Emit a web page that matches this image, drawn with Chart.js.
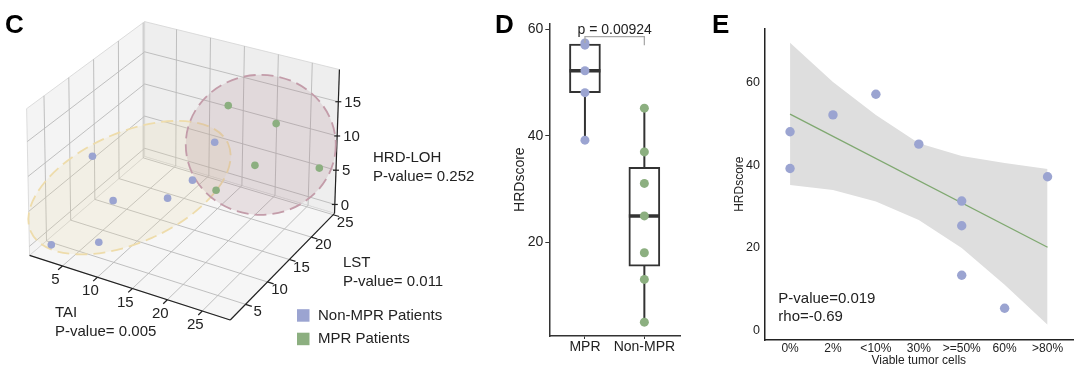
<!DOCTYPE html>
<html>
<head>
<meta charset="utf-8">
<script src="https://cdn.jsdelivr.net/npm/chart.js@4.4.0/dist/chart.umd.min.js"></script>
<style>
  body { margin:0; background:#fff; width:1080px; height:370px; position:relative; overflow:hidden; }
  .panel { position:absolute; top:0; height:370px; }
  .tag { position:absolute; top:11px; font:bold 26px "Liberation Sans", Arial, sans-serif; line-height:26px; color:#000; }
</style>
</head>
<body>
<div class="panel" style="left:0;width:490px"><canvas id="chartC" width="490" height="370"></canvas></div>
<div class="panel" style="left:490px;width:210px"><canvas id="chartD" width="210" height="370"></canvas></div>
<div class="panel" style="left:700px;width:380px"><canvas id="chartE" width="380" height="370"></canvas></div>
<div class="tag" style="left:5px">C</div>
<div class="tag" style="left:495px">D</div>
<div class="tag" style="left:712px">E</div>

<script>
// ---------------- data ----------------
// panel C : TAI / LST / HRD-LOH per patient
var taiNon = [2.4, 7.1, 6.1, 3.5, 11.7, 13.9, 15.0];
var lstNon = [3.0, 6.1, 10.6, 10.1, 14.0, 16.1, 19.2];
var lohNon = [0, 0, 3, 9, 3, 5, 9];
var taiMpr = [16.1, 22.1, 19.9, 27.6, 16.1];
var lstMpr = [20.4, 22.0, 20.8, 23.6, 18.0];
var lohMpr = [14, 12, 6, 6, 3];
// group centres (TAI, LST, LOH) of the two hulls
var hullTai = [7.1, 20.5];
var hullLst = [12.6, 21.1];
var hullLoh = [4, 9];
var taiTicks = [5, 10, 15, 20, 25];
var lstTicks = [5, 10, 15, 20, 25];
var lohTicks = [0, 5, 10, 15];

// panel D : HRD score by response
var groups = ['MPR', 'Non-MPR'];
var mprScores = [57.4, 57.0, 52.2, 48.1, 39.2];
var nonMprScores = [45.2, 37.0, 31.1, 25.0, 18.1, 13.1, 5.1];
var boxLow = [48.1, 15.6];
var boxMid = [52.2, 25.0];
var boxHigh = [57.2, 34.1];
var whiskLow = [39.2, 5.1];
var whiskHigh = [57.2, 45.2];
var bracketY = [57.4, 58.6, 58.6, 57.0];
var scoreTicks = [20, 40, 60];

// panel E : HRD score vs viable tumor cells
var cellCats = ['0%', '2%', '<10%', '30%', '>=50%', '60%', '>80%'];
var caseCells = ['0%', '0%', '2%', '<10%', '30%', '>=50%', '>=50%', '>=50%', '60%', '>80%'];
var caseScores = [48.1, 39.2, 52.2, 57.2, 45.1, 31.3, 25.3, 13.3, 5.3, 37.2];
var bandUpper = [69.7, 60.2, 52.2, 45.3, 42.2, 40.5, 39.1];
var bandLower = [35.2, 34.0, 31.2, 26.7, 19.9, 11.0, 1.3];
var fitEnds = [52.4, 20.1];
var eTicks = [0, 20, 40, 60];

var FONT = '"Liberation Sans", Arial, sans-serif';
var BLUE = '#9ba4d1';
var GREEN = '#8caf80';

// *************************************************************
// C : 3d scatter, box seen at elev 30 / azim -60
// *************************************************************
var range3d = { x: [0.3, 29], y: [1.5, 25.3], z: [-1.3, 19.7] };
// screen position of the 8 box corners, key = x y z (0 = min, 1 = max)
var corners = {
  '000': [26, 257], '100': [230, 323], '010': [143, 156], '110': [336, 214],
  '001': [23, 107], '101': [232, 166], '011': [143, 18], '111': [341, 67]
};
function proj(x, y, z) {
  var u = (x - range3d.x[0]) / (range3d.x[1] - range3d.x[0]);
  var v = (y - range3d.y[0]) / (range3d.y[1] - range3d.y[0]);
  var w = (z - range3d.z[0]) / (range3d.z[1] - range3d.z[0]);
  var px = 0, py = 0;
  [0, 1].forEach(function (i) { [0, 1].forEach(function (j) { [0, 1].forEach(function (k) {
    var f = (i ? u : 1 - u) * (j ? v : 1 - v) * (k ? w : 1 - w);
    var c = corners['' + i + j + k];
    px += f * c[0]; py += f * c[1];
  }); }); });
  return { x: px, y: py };
}

var cube = {
  id: 'cube',
  beforeDatasetsDraw: function (chart) {
    var ctx = chart.ctx, sx = chart.scales.x, sy = chart.scales.y;
    var X = range3d.x, Y = range3d.y, Z = range3d.z;
    function P(x, y, z) { var p = proj(x, y, z); return [sx.getPixelForValue(p.x), sy.getPixelForValue(p.y)]; }
    function poly(pts, fill, stroke) {
      ctx.beginPath();
      pts.forEach(function (p, i) { if (i) ctx.lineTo(p[0], p[1]); else ctx.moveTo(p[0], p[1]); });
      ctx.closePath();
      ctx.fillStyle = fill; ctx.fill();
      ctx.strokeStyle = stroke; ctx.lineWidth = 0.8; ctx.stroke();
    }
    function seg(a, b) { ctx.beginPath(); ctx.moveTo(a[0], a[1]); ctx.lineTo(b[0], b[1]); ctx.stroke(); }
    ctx.save();
    // panes
    poly([P(X[0], Y[0], Z[0]), P(X[0], Y[1], Z[0]), P(X[0], Y[1], Z[1]), P(X[0], Y[0], Z[1])], '#f4f4f4', '#d4d4d4');
    poly([P(X[0], Y[1], Z[0]), P(X[1], Y[1], Z[0]), P(X[1], Y[1], Z[1]), P(X[0], Y[1], Z[1])], '#eeeeee', '#d4d4d4');
    poly([P(X[0], Y[0], Z[0]), P(X[1], Y[0], Z[0]), P(X[1], Y[1], Z[0]), P(X[0], Y[1], Z[0])], '#f6f6f6', '#d4d4d4');
    // grid
    ctx.strokeStyle = '#b9b9b9'; ctx.lineWidth = 0.9;
    taiTicks.forEach(function (t) { seg(P(t, Y[0], Z[0]), P(t, Y[1], Z[0])); seg(P(t, Y[1], Z[0]), P(t, Y[1], Z[1])); });
    lstTicks.forEach(function (t) { seg(P(X[0], t, Z[0]), P(X[1], t, Z[0])); seg(P(X[0], t, Z[0]), P(X[0], t, Z[1])); });
    lohTicks.forEach(function (t) { seg(P(X[0], Y[0], t), P(X[0], Y[1], t)); seg(P(X[0], Y[1], t), P(X[1], Y[1], t)); });
    // axis lines + ticks
    ctx.strokeStyle = '#222'; ctx.lineWidth = 1.2;
    seg(P(X[0], Y[0], Z[0]), P(X[1], Y[0], Z[0]));
    seg(P(X[1], Y[0], Z[0]), P(X[1], Y[1], Z[0]));
    seg(P(X[1], Y[1], Z[0]), P(X[1], Y[1], Z[1]));
    ctx.fillStyle = '#222'; ctx.font = '15px ' + FONT;
    ctx.textAlign = 'center'; ctx.textBaseline = 'middle';
    taiTicks.forEach(function (t) {
      var a = P(t, Y[0], Z[0]); seg(a, P(t, Y[0] - 0.9, Z[0]));
      ctx.fillText(String(t), a[0] - 7, a[1] + 14);
    });
    lstTicks.forEach(function (t) {
      var a = P(X[1], t, Z[0]); seg(a, P(X[1] + 0.9, t, Z[0]));
      ctx.fillText(String(t), a[0] + 12, a[1] + 8);
    });
    ctx.textAlign = 'left';
    lohTicks.forEach(function (t) {
      var a = P(X[1], Y[1], t); seg([a[0] - 3, a[1]], [a[0] + 3, a[1]]);
      ctx.fillText(String(t), a[0] + 6, a[1] + 1);
    });
    // axis titles
    ctx.fillText('HRD-LOH', 373, 158);
    ctx.fillText('P-value= 0.252', 373, 176.5);
    ctx.fillText('LST', 343, 263);
    ctx.fillText('P-value= 0.011', 343, 281.5);
    ctx.fillText('TAI', 55, 313);
    ctx.fillText('P-value= 0.005', 55, 331.5);
    // group hulls
    var hulls = [
      { a: 108, b: 55, rot: -24, fill: 'rgba(236,222,170,0.2)', line: '#eedcab' },
      { a: 75, b: 70, rot: 0, fill: 'rgba(165,120,135,0.18)', line: '#c39ca9' }
    ];
    hulls.forEach(function (h, i) {
      var c = P(hullTai[i], hullLst[i], hullLoh[i]);
      ctx.beginPath();
      ctx.ellipse(c[0], c[1], h.a, h.b, h.rot * Math.PI / 180, 0, Math.PI * 2);
      ctx.fillStyle = h.fill; ctx.fill();
      ctx.setLineDash([12, 6]); ctx.lineWidth = 1.8; ctx.strokeStyle = h.line; ctx.stroke();
      ctx.setLineDash([]);
    });
    // legend
    ctx.font = '15px ' + FONT; ctx.textAlign = 'left'; ctx.textBaseline = 'middle';
    [[BLUE, 'Non-MPR Patients', 315.5], [GREEN, 'MPR Patients', 339]].forEach(function (l) {
      ctx.fillStyle = l[0]; ctx.fillRect(297, l[2] - 6.3, 12.5, 12.5);
      ctx.fillStyle = '#222'; ctx.fillText(l[1], 318, l[2]);
    });
    ctx.restore();
  }
};

function cloud(tai, lst, loh) {
  return tai.map(function (t, i) { return proj(t, lst[i], loh[i]); });
}

new Chart(document.getElementById('chartC'), {
  type: 'scatter',
  data: {
    datasets: [
      { label: 'Non-MPR Patients', data: cloud(taiNon, lstNon, lohNon), backgroundColor: BLUE, pointRadius: 3.8, borderWidth: 0 },
      { label: 'MPR Patients', data: cloud(taiMpr, lstMpr, lohMpr), backgroundColor: GREEN, pointRadius: 3.8, borderWidth: 0 }
    ]
  },
  options: {
    responsive: false, animation: false, events: [],
    layout: { padding: 0 },
    plugins: { legend: { display: false }, tooltip: { enabled: false } },
    scales: {
      x: { type: 'linear', display: false, min: 0, max: 490 },
      y: { type: 'linear', display: false, min: 0, max: 370, reverse: true }
    }
  },
  plugins: [cube]
});

// *************************************************************
// D : boxplot
// *************************************************************
var pLabel = {
  id: 'pLabel',
  afterDatasetsDraw: function (chart) {
    var ctx = chart.ctx, sx = chart.scales.x, sy = chart.scales.y;
    ctx.save();
    ctx.font = '14px ' + FONT; ctx.fillStyle = '#222';
    ctx.textAlign = 'center'; ctx.textBaseline = 'middle';
    ctx.fillText('p = 0.00924', (sx.getPixelForValue(1) + sx.getPixelForValue(2)) / 2, sy.getPixelForValue(bracketY[1]) - 6.5);
    ctx.restore();
  }
};

var dDatasets = groups.map(function (g, i) {
  return { type: 'line', data: [{ x: i + 1, y: whiskLow[i] }, { x: i + 1, y: whiskHigh[i] }],
           borderColor: '#333', borderWidth: 2, pointRadius: 0, order: 5 };
});
dDatasets.push({
  type: 'bar', data: groups.map(function (g, i) { return { x: i + 1, y: [boxLow[i], boxHigh[i]] }; }),
  backgroundColor: '#fff', borderColor: '#333', borderWidth: 2, borderSkipped: false,
  barThickness: 31, grouped: false, order: 4
});
dDatasets.push({
  type: 'scatter', data: groups.map(function (g, i) { return { x: i + 1, y: boxMid[i] }; }),
  pointStyle: 'line', pointRadius: 15.5, pointBorderWidth: 3.5, pointBorderColor: '#333', order: 3
});
dDatasets.push({
  type: 'scatter', data: mprScores.map(function (v) { return { x: 1, y: v }; }),
  backgroundColor: BLUE, pointRadius: 4.5, borderWidth: 0, order: 1
});
dDatasets.push({
  type: 'scatter', data: nonMprScores.map(function (v) { return { x: 2, y: v }; }),
  backgroundColor: GREEN, pointRadius: 4.5, borderWidth: 0, order: 1
});
dDatasets.push({
  type: 'line', data: bracketY.map(function (v, i) { return { x: i < 2 ? 1 : 2, y: v }; }),
  borderColor: '#aaa', borderWidth: 1.3, pointRadius: 0, order: 0
});

new Chart(document.getElementById('chartD'), {
  type: 'bar',
  data: { datasets: dDatasets },
  options: {
    responsive: false, animation: false, events: [],
    layout: { padding: { top: 23.3, right: 20, bottom: 0, left: 0 } },
    plugins: { legend: { display: false }, tooltip: { enabled: false } },
    scales: {
      x: {
        type: 'linear', min: 0.4, max: 2.6, offset: false,
        afterBuildTicks: function (s) { s.ticks = groups.map(function (g, i) { return { value: i + 1 }; }); },
        afterFit: function (s) { s.height = 34; },
        ticks: { callback: function (v) { return groups[v - 1]; }, font: { size: 14, family: FONT }, color: '#222', padding: 0, maxRotation: 0 },
        grid: { display: true, offset: false, drawOnChartArea: false, drawTicks: true, tickLength: 3, color: '#333' },
        border: { display: true, color: '#333', width: 1.5 }
      },
      y: {
        type: 'linear', min: 2.5, max: 61.1, beginAtZero: false,
        afterBuildTicks: function (s) { s.ticks = scoreTicks.map(function (v) { return { value: v }; }); },
        afterFit: function (s) { s.width = 59.3; },
        ticks: { font: { size: 14, family: FONT }, color: '#222', padding: 2 },
        grid: { display: true, drawOnChartArea: false, drawTicks: true, tickLength: 4, color: '#333' },
        border: { display: true, color: '#333', width: 1.5 },
        title: { display: true, text: 'HRDscore', font: { size: 14, family: FONT }, color: '#222', padding: { top: 21.6, bottom: 0 } }
      }
    }
  },
  plugins: [pLabel]
});

// *************************************************************
// E : correlation with viable tumor cells
// *************************************************************
var statText = {
  id: 'statText',
  afterDatasetsDraw: function (chart) {
    var ctx = chart.ctx;
    ctx.save();
    ctx.font = '15px ' + FONT; ctx.fillStyle = '#222';
    ctx.textAlign = 'left'; ctx.textBaseline = 'middle';
    ctx.fillText('P-value=0.019', 78.3, 299);
    ctx.fillText('rho=-0.69', 78.3, 316.7);
    ctx.restore();
  }
};

new Chart(document.getElementById('chartE'), {
  type: 'scatter',
  data: {
    datasets: [
      { type: 'line', data: bandLower.map(function (v, i) { return { x: i + 1, y: v }; }),
        borderWidth: 0, pointRadius: 0, fill: false, order: 3 },
      { type: 'line', data: bandUpper.map(function (v, i) { return { x: i + 1, y: v }; }),
        borderWidth: 0, pointRadius: 0, fill: '-1', backgroundColor: '#dedede', order: 2 },
      { type: 'line', data: [{ x: 1, y: fitEnds[0] }, { x: cellCats.length, y: fitEnds[1] }],
        borderColor: '#7fa870', borderWidth: 1.3, pointRadius: 0, fill: false, order: 1 },
      { data: caseCells.map(function (c, i) { return { x: cellCats.indexOf(c) + 1, y: caseScores[i] }; }),
        backgroundColor: BLUE, pointRadius: 4.7, borderWidth: 0, order: 0 }
    ]
  },
  options: {
    responsive: false, animation: false, events: [],
    layout: { padding: { top: 28.3, right: 6.7, bottom: 0, left: 0 } },
    plugins: { legend: { display: false }, tooltip: { enabled: false } },
    scales: {
      x: {
        type: 'linear', min: 0.4, max: 7.6,
        afterBuildTicks: function (s) { s.ticks = cellCats.map(function (c, i) { return { value: i + 1 }; }); },
        afterFit: function (s) { s.height = 30; },
        ticks: { callback: function (v) { return cellCats[v - 1]; }, font: { size: 12, family: FONT }, color: '#222', padding: 1.1, maxRotation: 0, autoSkip: false },
        grid: { display: false, drawTicks: false },
        border: { display: true, color: '#222', width: 1.5 },
        title: { display: true, text: 'Viable tumor cells', font: { size: 12, family: FONT }, color: '#222', padding: { top: 0, bottom: 2.1 } }
      },
      y: {
        type: 'linear', min: -2.4, max: 73.2,
        afterBuildTicks: function (s) { s.ticks = eTicks.map(function (v) { return { value: v }; }); },
        afterFit: function (s) { s.width = 64.3; },
        ticks: { font: { size: 12.5, family: FONT }, color: '#222', padding: 4.3 },
        grid: { display: false, drawTicks: false },
        border: { display: true, color: '#222', width: 1.5 },
        title: { display: true, text: 'HRDscore', font: { size: 12, family: FONT }, color: '#222', padding: { top: 32.8, bottom: 0 } }
      }
    }
  },
  plugins: [statText]
});
</script>
</body>
</html>
